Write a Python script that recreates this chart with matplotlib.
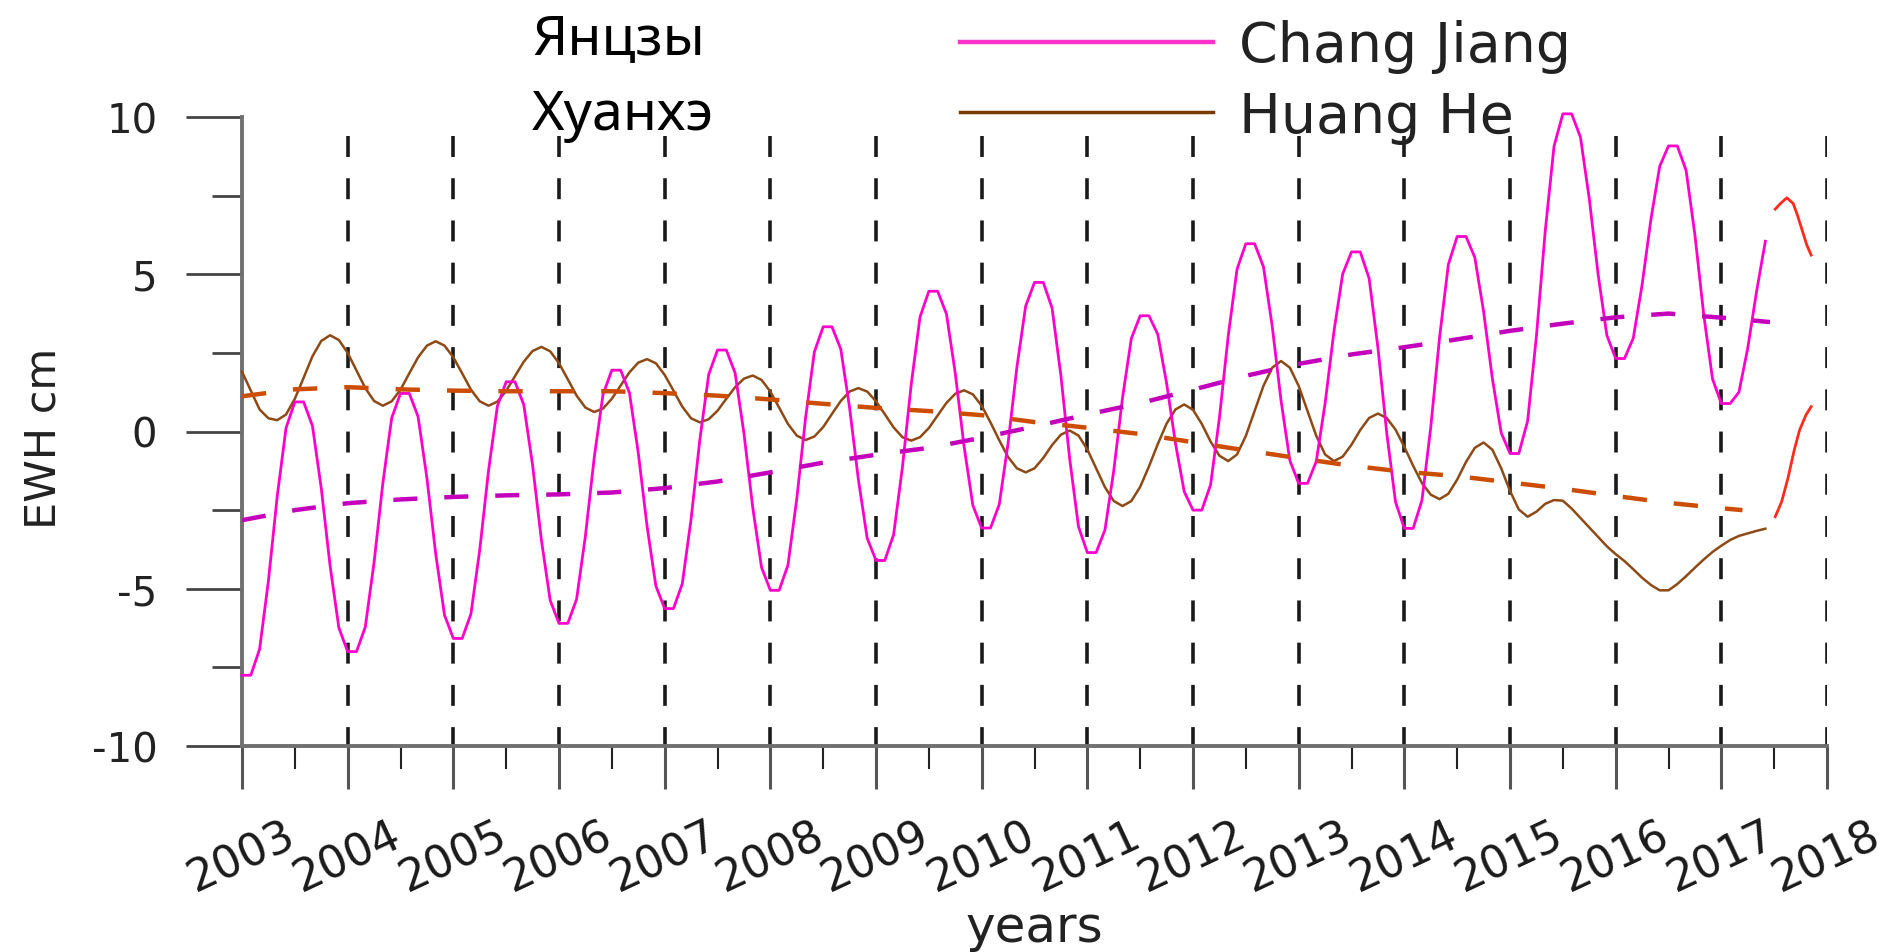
import numpy as np
import matplotlib

matplotlib.use("Agg")

import matplotlib.pyplot as plt
from matplotlib.lines import Line2D

plt.rcParams["font.family"] = ["DejaVu Sans"]
plt.rcParams["lines.scale_dashes"] = False
plt.rcParams["axes.unicode_minus"] = False

# ---- data (EWH, cm), monthly from Jan 2003 ----
year_ticks = list(range(2003, 2019))

chang_jiang = [
    -7.75, -7.75, -6.92, -4.75, -2.06, 0.11, 0.94, 0.94, 0.18, -1.80, -4.26, -6.24,  # 2003
    -7.00, -7.00, -6.22, -4.16, -1.63, 0.43, 1.21, 1.21, 0.47, -1.48, -3.89, -5.84,  # 2004
    -6.58, -6.58, -5.80, -3.76, -1.24, 0.80, 1.58, 1.58, 0.85, -1.07, -3.45, -5.37,  # 2005
    -6.10, -6.10, -5.33, -3.32, -0.83, 1.18, 1.95, 1.95, 1.23, -0.67, -3.01, -4.91,  # 2006
    -5.63, -5.63, -4.84, -2.79, -0.25, 1.81, 2.59, 2.59, 1.86, -0.05, -2.41, -4.32,  # 2007
    -5.05, -5.05, -4.25, -2.15, 0.43, 2.53, 3.33, 3.33, 2.62, 0.76, -1.53, -3.39,    # 2008
    -4.10, -4.10, -3.28, -1.14, 1.50, 3.64, 4.46, 4.46, 3.74, 1.86, -0.47, -2.35,    # 2009
    -3.07, -3.07, -2.32, -0.37, 2.04, 3.99, 4.74, 4.74, 3.92, 1.77, -0.88, -3.03,    # 2010
    -3.85, -3.85, -3.13, -1.25, 1.08, 2.96, 3.68, 3.68, 3.09, 1.54, -0.36, -1.91,    # 2011
    -2.50, -2.50, -1.69, 0.43, 3.04, 5.16, 5.97, 5.97, 5.24, 3.34, 0.98, -0.92,      # 2012
    -1.65, -1.65, -0.95, 0.89, 3.17, 5.01, 5.71, 5.71, 4.87, 2.67, -0.04, -2.24,     # 2013
    -3.08, -3.08, -2.19, 0.13, 2.99, 5.31, 6.20, 6.20, 5.54, 3.82, 1.68, -0.04,      # 2014
    -0.70, -0.70, 0.33, 3.03, 6.37, 9.07, 10.10, 10.10, 9.36, 7.41, 5.01, 3.06,      # 2015
    2.32, 2.32, 2.97, 4.66, 6.74, 8.43, 9.08, 9.08, 8.30, 6.25, 3.72, 1.67,          # 2016
    0.89, 0.89, 1.25, 2.65, 4.45, 6.05,                                              # 2017
]

huang_he = [
    1.90, 1.30, 0.70, 0.42, 0.36, 0.54, 1.04, 1.71, 2.39, 2.88, 3.06, 2.91,          # 2003
    2.50, 1.94, 1.38, 0.97, 0.82, 0.96, 1.33, 1.85, 2.36, 2.73, 2.87, 2.73,          # 2004
    2.36, 1.85, 1.33, 0.96, 0.82, 0.95, 1.29, 1.76, 2.22, 2.56, 2.69, 2.55,          # 2005
    2.17, 1.66, 1.14, 0.76, 0.62, 0.73, 1.04, 1.46, 1.88, 2.19, 2.30, 2.17,          # 2006
    1.80, 1.30, 0.79, 0.42, 0.29, 0.39, 0.66, 1.04, 1.41, 1.68, 1.78, 1.64,          # 2007
    1.27, 0.76, 0.24, -0.13, -0.27, -0.16, 0.14, 0.56, 0.97, 1.27, 1.38, 1.27,       # 2008
    0.96, 0.55, 0.13, -0.18, -0.29, -0.18, 0.11, 0.51, 0.91, 1.20, 1.31, 1.18,       # 2009
    0.82, 0.29, -0.28, -0.81, -1.17, -1.30, -1.17, -0.84, -0.43, -0.10, 0.03, -0.13, # 2010
    -0.57, -1.17, -1.77, -2.21, -2.37, -2.21, -1.76, -1.11, -0.40, 0.25, 0.70, 0.86, # 2011
    0.69, 0.24, -0.32, -0.77, -0.94, -0.73, -0.14, 0.65, 1.45, 2.03, 2.24, 2.03,     # 2012
    1.45, 0.65, -0.14, -0.73, -0.94, -0.80, -0.42, 0.05, 0.43, 0.57, 0.43, 0.06,     # 2013
    -0.49, -1.09, -1.64, -2.01, -2.15, -1.98, -1.53, -0.97, -0.52, -0.35, -0.58, -1.17,  # 2014
    -1.89, -2.48, -2.71, -2.55, -2.30, -2.18, -2.20, -2.45, -2.75, -3.05, -3.35, -3.65,  # 2015
    -3.90, -4.12, -4.38, -4.65, -4.88, -5.05, -5.05, -4.85, -4.60, -4.33, -4.07, -3.83,  # 2016
    -3.63, -3.45, -3.32, -3.24, -3.16, -3.09,                                           # 2017
]

# smooth trends (dashed)
cj_trend_t = [2003.0, 2003.5, 2004.0, 2004.5, 2005.0, 2005.5, 2006.0, 2006.5, 2007.0, 2007.5,
              2008.0, 2008.5, 2009.0, 2009.5, 2010.0, 2010.5, 2011.0, 2011.5, 2012.0, 2012.5,
              2013.0, 2013.5, 2014.0, 2014.5, 2015.0, 2015.5, 2016.0, 2016.5, 2017.0, 2017.46]
cj_trend = [-2.82, -2.50, -2.28, -2.16, -2.08, -2.03, -2.00, -1.94, -1.80, -1.59,
            -1.30, -0.99, -0.74, -0.52, -0.20, 0.16, 0.54, 0.90, 1.33, 1.77,
            2.15, 2.45, 2.68, 2.93, 3.20, 3.43, 3.63, 3.75, 3.62, 3.48]

hh_trend_t = [2003.0, 2003.5, 2004.0, 2004.5, 2005.0, 2005.5, 2006.0, 2006.5, 2007.0, 2007.5,
              2008.0, 2008.5, 2009.0, 2009.5, 2010.0, 2010.5, 2011.0, 2011.5, 2012.0, 2012.5,
              2013.0, 2013.5, 2014.0, 2014.5, 2015.0, 2015.5, 2016.0, 2016.5, 2017.0, 2017.2]
hh_trend = [1.12, 1.34, 1.41, 1.34, 1.30, 1.28, 1.28, 1.28, 1.22, 1.14,
            1.02, 0.88, 0.75, 0.65, 0.52, 0.30, 0.12, -0.08, -0.34, -0.60,
            -0.85, -1.09, -1.28, -1.42, -1.62, -1.82, -2.05, -2.27, -2.44, -2.50]

# red continuation at the end
cj_tail_t = [2017.51, 2017.56, 2017.62, 2017.68, 2017.72, 2017.76, 2017.81, 2017.85]
cj_tail = [7.07, 7.25, 7.43, 7.25, 6.88, 6.45, 5.92, 5.61]
hh_tail_t = [2017.51, 2017.57, 2017.63, 2017.69, 2017.74, 2017.80, 2017.85]
hh_tail = [-2.71, -2.24, -1.49, -0.59, 0.04, 0.52, 0.79]

series_labels = ["Chang Jiang", "Huang He"]
ru_labels = ["Янцзы", "Хуанхэ"]

months = 2003 + np.arange(len(chang_jiang)) / 12.0

W, H, DPI = 1897, 953, 100
fig = plt.figure(figsize=(W / DPI, H / DPI), dpi=DPI, facecolor="white")
ax = fig.add_axes([242 / W, (H - 747) / H, 1585 / W, 629 / H])
ax.set_xlim(2003, 2018)
ax.set_ylim(-10, 10)

for yr in year_ticks[1:]:
    ax.plot([yr, yr], [9.4, -10], color="#1a1a1a", lw=2.6, dashes=(15.1, 15.3), zorder=1)

ax.plot(months, huang_he, color="#8e4a16", lw=1.8, zorder=3, clip_on=False)
ax.plot(months, chang_jiang, color="#ff00cc", lw=2.0, zorder=4, clip_on=False)
ax.plot(hh_trend_t, hh_trend, color="#cc4c00", lw=3.2, dashes=(17.5, 19.5), zorder=5)
ax.plot(cj_trend_t, cj_trend, color="#c400bc", lw=3.2, dashes=(17.3, 19.4), zorder=5)
ax.plot(cj_tail_t, cj_tail, color="#ff2b1c", lw=2.0, zorder=4, clip_on=False)
ax.plot(hh_tail_t, hh_tail, color="#ff2b1c", lw=2.0, zorder=4, clip_on=False)

for side in ("top", "right"):
    ax.spines[side].set_visible(False)
for side in ("left", "bottom"):
    ax.spines[side].set_color("#707070")
    ax.spines[side].set_linewidth(2.8)

ax.set_yticks([-10, -5, 0, 5, 10])
ax.set_yticks([-7.5, -2.5, 2.5, 7.5], minor=True)
ax.set_xticks(year_ticks)
ax.set_xticks([y + 0.5 for y in year_ticks[:-1]], minor=True)
ax.set_xticklabels([str(y) for y in year_ticks], rotation=25, ha="center")

ax.tick_params(axis="y", which="major", direction="out", length=40, width=2.0,
               color="#444444", pad=21, labelsize=29, labelcolor="#222222")
ax.tick_params(axis="y", which="minor", direction="out", length=21.6, width=2.0, color="#444444")
ax.tick_params(axis="x", which="major", direction="out", length=31, width=2.2,
               color="#555555", pad=17, labelsize=32, labelcolor="#1a1a1a")
ax.tick_params(axis="x", which="minor", direction="out", length=16.5, width=1.5, color="#222222")

ax.set_xlabel("years", fontsize=36, color="#222222")
ax.xaxis.set_label_coords(0.5, -0.25)
ax.set_ylabel("EWH cm", fontsize=31, color="#222222")
ax.yaxis.set_label_coords(-0.112, 0.49)

handles = [Line2D([], [], color="#ff33cc", lw=3.2), Line2D([], [], color="#7a3a00", lw=2.5)]
ax.legend(handles, series_labels, loc="upper left", bbox_to_anchor=(960 / W, 1 - 20 / H),
          bbox_transform=fig.transFigure, frameon=False, fontsize=40, handlelength=4.55,
          handletextpad=0.47, borderpad=0, borderaxespad=0, labelspacing=0.3,
          labelcolor="#222222")

fig.text(532 / W, 1 - 54 / H, ru_labels[0], fontsize=40, family=["Noto Sans", "DejaVu Sans"],
         va="baseline", ha="left", color="black")
fig.text(532 / W, 1 - 130 / H, ru_labels[1], fontsize=40, family=["Noto Sans", "DejaVu Sans"],
         va="baseline", ha="left", color="black")

fig.savefig("out.png", dpi=DPI, facecolor="white")
